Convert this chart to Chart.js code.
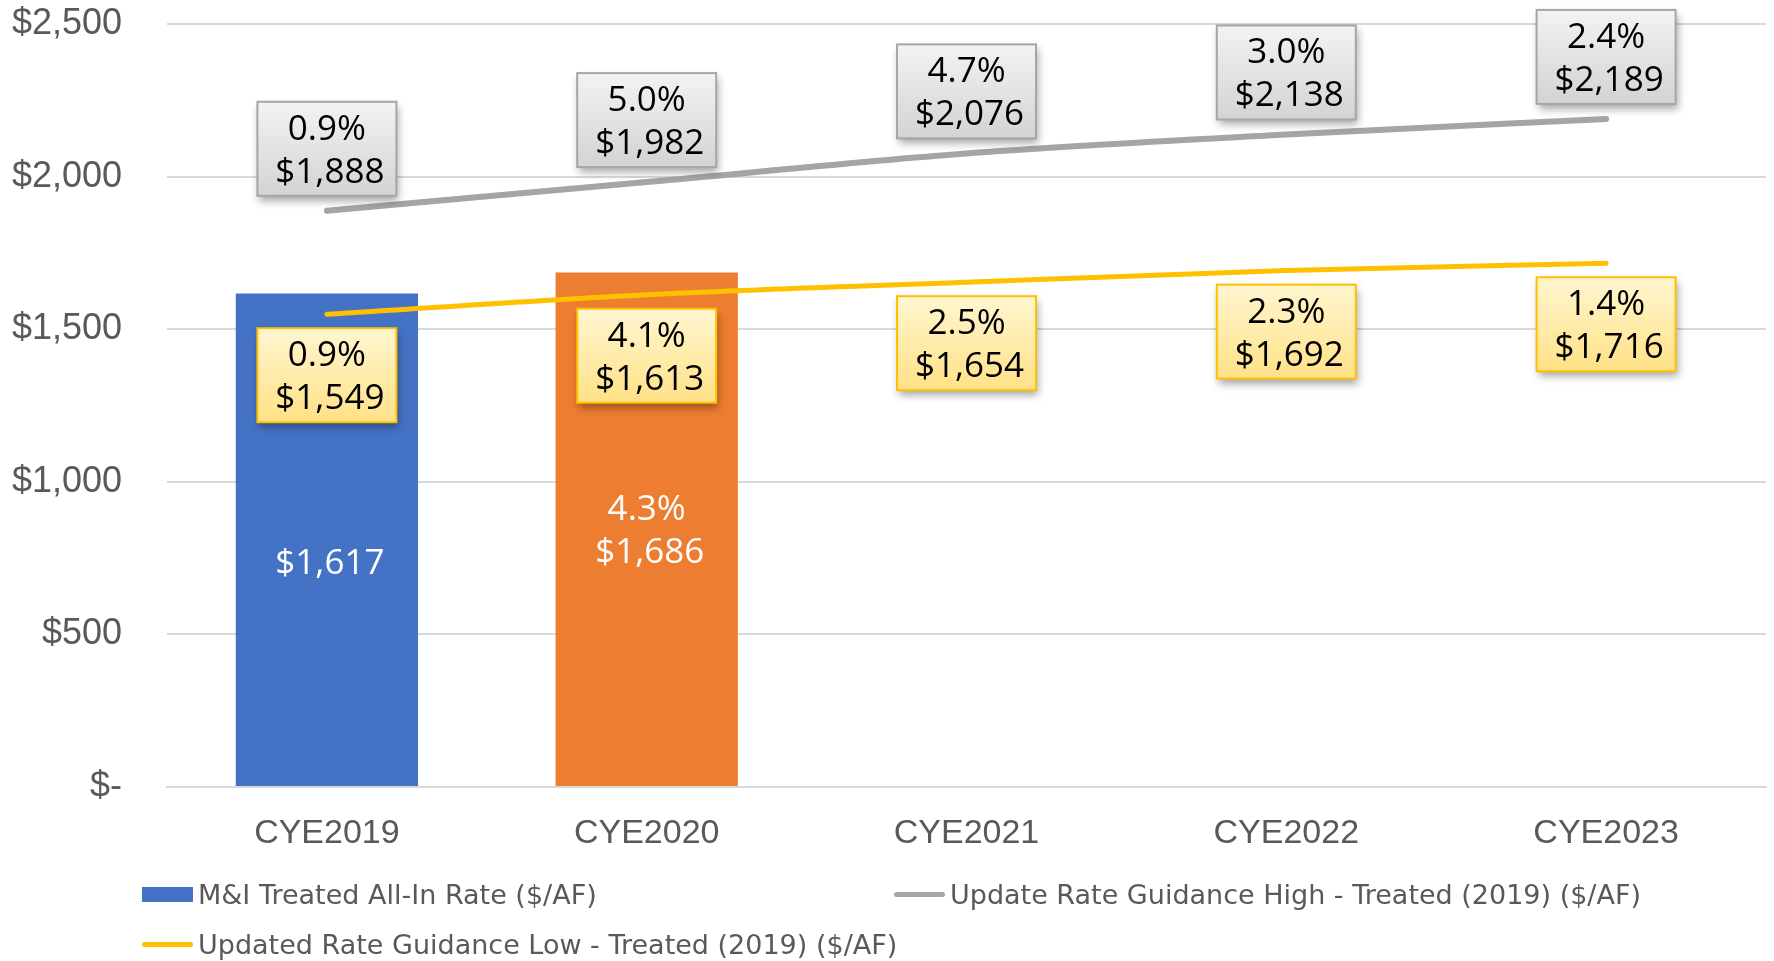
<!DOCTYPE html>
<html>
<head>
<meta charset="utf-8">
<script src="https://cdn.jsdelivr.net/npm/chart.js@4.4.1/dist/chart.umd.min.js"></script>
<style>
  html, body { margin: 0; padding: 0; background: #fff; }
  #wrap { position: relative; width: 1774px; height: 961px; }
  #legend { position: absolute; left: 142px; top: 872px; width: 1600px;
            font-family: "DejaVu Sans", Verdana, sans-serif; font-size: 27px; color: #595959; }
  .item { position: absolute; display: flex; align-items: center; white-space: nowrap; height: 44px; }
  .sym { width: 51px; margin-right: 5px; }
</style>
</head>
<body>
<div id="wrap">
  <canvas id="rateChart" width="1774" height="961"></canvas>
  <div id="legend"></div>
</div>
<script>
const categories = ['CYE2019', 'CYE2020', 'CYE2021', 'CYE2022', 'CYE2023'];

// M&I treated all-in rate (bars)
const allInRate = [1617, 1686, null, null, null];
const allInPct = [null, 4.3, null, null, null];

// rate guidance lines
const highRate = [1888, 1982, 2076, 2138, 2189];
const highPct = [0.9, 5.0, 4.7, 3.0, 2.4];
const lowRate = [1549, 1613, 1654, 1692, 1716];
const lowPct = [0.9, 4.1, 2.5, 2.3, 1.4];

const yTicks = [0, 500, 1000, 1500, 2000, 2500];

const barColors = ['#4472C4', '#ED7D31'];
const labelFont = '35px "Open Sans", "Noto Sans", sans-serif';

const money = v => '$' + v.toLocaleString('en-US');
const pct = p => p == null ? '' : p.toFixed(1) + '%';

function drawBox(ctx, cx, top, w, h, fillTop, fillBottom, stroke) {
    const x = cx - w / 2;
    ctx.save();
    ctx.shadowColor = 'rgba(0,0,0,0.35)';
    ctx.shadowBlur = 8;
    ctx.shadowOffsetX = 2;
    ctx.shadowOffsetY = 5;
    const g = ctx.createLinearGradient(0, top, 0, top + h);
    g.addColorStop(0, fillTop);
    g.addColorStop(1, fillBottom);
    ctx.fillStyle = g;
    ctx.fillRect(x, top, w, h);
    ctx.restore();
    ctx.save();
    ctx.strokeStyle = stroke;
    ctx.lineWidth = 2;
    ctx.strokeRect(x, top, w, h);
    ctx.restore();
}

function drawTwoLines(ctx, cx, cy, l1, l2, color) {
    ctx.save();
    ctx.font = labelFont;
    ctx.fillStyle = color;
    ctx.textAlign = 'center';
    ctx.textBaseline = 'middle';
    if (l1) ctx.fillText(l1, cx, cy - 19);
    ctx.fillText(l2, cx + 3, cy + 24);
    ctx.restore();
}

// boxed labels for the lines, plain white labels inside the bars
const valueLabels = {
    id: 'valueLabels',
    afterDatasetsDraw(chart) {
        const ctx = chart.ctx;
        const boxW = 139, boxH = 94;

        chart.getDatasetMeta(0).data.forEach((bar, i) => {
            if (allInRate[i] == null) return;
            const mid = (bar.y + bar.base) / 2;
            drawTwoLines(ctx, bar.x, mid, pct(allInPct[i]), money(allInRate[i]), '#ffffff');
        });

        chart.getDatasetMeta(1).data.forEach((pt, i) => {
            const top = pt.y - 15 - boxH;
            drawBox(ctx, pt.x, top, boxW, boxH, '#f3f3f3', '#d3d3d3', '#a6a6a6');
            drawTwoLines(ctx, pt.x, top + boxH / 2, pct(highPct[i]), money(highRate[i]), '#000000');
        });

        chart.getDatasetMeta(2).data.forEach((pt, i) => {
            const top = pt.y + 14;
            drawBox(ctx, pt.x, top, boxW, boxH, '#fff6d0', '#ffe187', '#ffc000');
            drawTwoLines(ctx, pt.x, top + boxH / 2, pct(lowPct[i]), money(lowRate[i]), '#000000');
        });
    }
};

const chart = new Chart(document.getElementById('rateChart'), {
    type: 'bar',
    data: {
        labels: categories,
        datasets: [{
            label: 'M&I Treated All-In Rate ($/AF)',
            data: allInRate,
            backgroundColor: barColors,
            barPercentage: 0.57,
            categoryPercentage: 1.0,
            order: 3
        },
        {
            type: 'line',
            label: 'Update Rate Guidance High - Treated (2019) ($/AF)',
            data: highRate,
            borderColor: '#A5A5A5',
            borderWidth: 6,
            borderCapStyle: 'round',
            pointRadius: 0,
            cubicInterpolationMode: 'monotone',
            order: 1
        },
        {
            type: 'line',
            label: 'Updated Rate Guidance Low - Treated (2019) ($/AF)',
            data: lowRate,
            borderColor: '#FFC000',
            borderWidth: 5,
            borderCapStyle: 'round',
            pointRadius: 0,
            cubicInterpolationMode: 'monotone',
            order: 2
        }]
    },
    options: {
        responsive: false,
        animation: false,
        layout: { padding: { left: 0, right: 8, top: 0, bottom: 84 } },
        plugins: {
            legend: { display: false },
            tooltip: { enabled: false }
        },
        scales: {
            x: {
                grid: { display: false },
                border: { color: '#d9d9d9', width: 2 },
                ticks: {
                    color: '#595959',
                    padding: 18,
                    font: { family: '"Liberation Sans Narrow", "Liberation Sans", sans-serif', size: 34 }
                },
                afterFit: s => { s.height = 90; }
            },
            y: {
                min: 0,
                max: 2500,
                afterBuildTicks: s => { s.ticks = yTicks.map(v => ({ value: v })); },
                grid: { color: '#d9d9d9', lineWidth: 2, drawTicks: false },
                border: { display: false },
                ticks: {
                    color: '#595959',
                    padding: 45,
                    font: { family: '"Liberation Sans", Arial, sans-serif', size: 36 },
                    callback: v => v === 0 ? '$-' : money(v)
                },
                // keep the wide label gap from pushing the plot top down
                afterFit: s => { s.width = 167; s.paddingTop = 24; s.paddingBottom = 24; }
            }
        }
    },
    plugins: [valueLabels]
});

// legend laid out like the original: two columns, wrapping onto a second row
const legendSlots = [[0, 0], [752, 0], [0, 50]];
const legendEl = document.getElementById('legend');
chart.data.datasets.forEach((ds, i) => {
    const item = document.createElement('div');
    item.className = 'item';
    item.style.left = legendSlots[i][0] + 'px';
    item.style.top = legendSlots[i][1] + 'px';
    const sym = document.createElement('span');
    sym.className = 'sym';
    if (ds.type === 'line') {
        sym.style.height = '5px';
        sym.style.borderRadius = '3px';
        sym.style.background = ds.borderColor;
    } else {
        sym.style.height = '15px';
        sym.style.background = barColors[0];
    }
    item.appendChild(sym);
    item.appendChild(document.createTextNode(ds.label));
    legendEl.appendChild(item);
});
</script>
</body>
</html>
